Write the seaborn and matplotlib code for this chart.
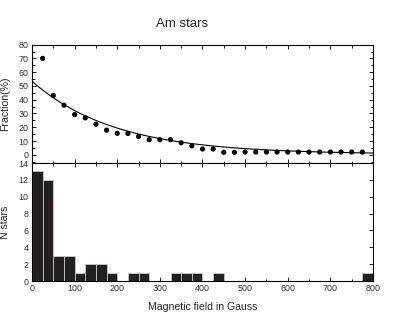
import numpy as np
import pandas as pd
import matplotlib
matplotlib.use("Agg")
import matplotlib.pyplot as plt
from matplotlib.ticker import MultipleLocator
import seaborn as sns

# fraction of Am stars above a field value (%)
field = [25, 50, 75, 100, 125, 150, 175, 200, 225, 250, 275, 300, 325, 350, 375, 400,
         425, 450, 475, 500, 525, 550, 575, 600, 625, 650, 675, 700, 725, 750, 775]
fraction = [70, 43, 36, 29.2, 26.8, 22.2, 17.9, 15.6, 15.5, 13.3, 11, 11, 11, 8.7, 6.5, 4.2,
            4.2, 1.8, 1.8, 2, 2, 2, 2, 2, 2, 2, 2, 2, 2, 2, 2]

# exponential fit: A*exp(-B/tau) + y0
fit_A, fit_tau, fit_y0 = 53.0, 195.0, 0.4

# histogram of stars, 25 G bins
bin_edges = list(range(0, 825, 25))
bin_counts = [13, 12, 3, 3, 1, 2, 2, 1, 0, 1, 1, 0, 0, 1, 1, 1,
              0, 1, 0, 0, 0, 0, 0, 0, 0, 0, 0, 0, 0, 0, 0, 1]

sns.set_style("ticks")
plt.rcParams['font.family'] = ['Liberation Sans', 'DejaVu Sans']
plt.rcParams['xtick.direction'] = 'in'
plt.rcParams['ytick.direction'] = 'in'

fig = plt.figure(figsize=(3.93, 3.21), dpi=100)
ax1 = fig.add_axes([0.0814, 0.492, 0.8677, 0.369])
ax2 = fig.add_axes([0.0814, 0.1246, 0.8677, 0.3674])

# top panel
sns.scatterplot(x=field, y=fraction, ax=ax1, color="black", s=14, edgecolor="none")
xf = np.linspace(0, 800, 200)
sns.lineplot(x=xf, y=fit_A * np.exp(-xf / fit_tau) + fit_y0, ax=ax1, color="black", lw=0.8)
ax1.set_xlim(0, 800)
ax1.set_ylim(-6, 80)
ax1.set_yticks(range(0, 81, 10))
ax1.yaxis.set_minor_locator(MultipleLocator(5))
ax1.xaxis.set_major_locator(MultipleLocator(100))
ax1.xaxis.set_minor_locator(MultipleLocator(50))
ax1.tick_params(labelbottom=False)
ax1.set_ylabel("Fraction(%)", fontsize=7.6)
ax1.yaxis.set_label_coords(-0.064, 0.5)
fig.text(0.463, 0.925, "Am stars", fontsize=9.5, ha="center", va="center")

# bottom panel
hist = pd.DataFrame({"center": [e + 12.5 for e in bin_edges[:-1]], "count": bin_counts})
sns.histplot(data=hist, x="center", weights="count", bins=bin_edges, ax=ax2,
             color="#231f20", alpha=1, edgecolor="#c8c8c8", linewidth=0.6)
ax2.set_xlim(0, 800)
ax2.set_ylim(0, 14)
ax2.set_yticks(range(0, 15, 2))
ax2.xaxis.set_major_locator(MultipleLocator(100))
ax2.xaxis.set_minor_locator(MultipleLocator(50))
ax2.set_ylabel("N stars", fontsize=7.6)
ax2.yaxis.set_label_coords(-0.064, 0.5)
ax2.set_xlabel("Magnetic field in Gauss", fontsize=7.6, labelpad=6)

for ax in (ax1, ax2):
    ax.tick_params(which="both", top=True, right=True, labelsize=6.4, pad=2.5,
                   width=0.6, color="black", labelcolor="#333333")
    ax.tick_params(which="major", length=3)
    ax.tick_params(which="minor", length=1.8)
    for sp in ax.spines.values():
        sp.set_linewidth(0.8)
        sp.set_color("black")

fig.savefig("out.png", dpi=100)
